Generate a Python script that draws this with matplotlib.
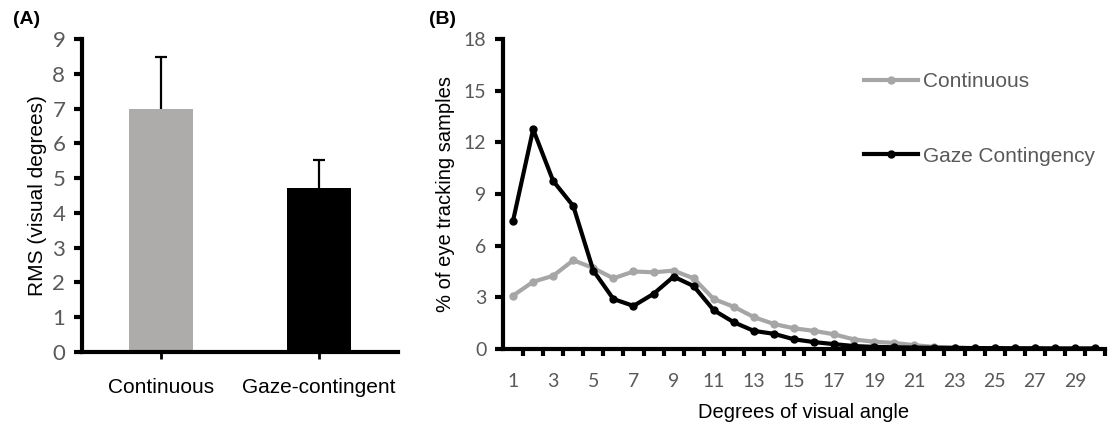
import numpy as np
import matplotlib
matplotlib.use("Agg")
import matplotlib.pyplot as plt
from matplotlib.ticker import FixedLocator

# panel A data
condiciones = ['Continuous', 'Gaze-contingent']
rms = [7.0, 4.73]
rms_err = [1.47, 0.80]

# panel B data
grados = list(range(1, 31))
continuo = [3.1, 3.9, 4.25, 5.15, 4.7, 4.1, 4.5, 4.45, 4.55, 4.1,
            2.9, 2.45, 1.85, 1.45, 1.2, 1.05, 0.85, 0.55, 0.42, 0.35,
            0.22, 0.12, 0.08, 0.05, 0.04, 0.03, 0.03, 0.02, 0.02, 0.02]
contingente = [7.45, 12.75, 9.75, 8.3, 4.55, 2.9, 2.5, 3.2, 4.2, 3.65,
               2.25, 1.55, 1.05, 0.88, 0.56, 0.4, 0.28, 0.17, 0.12, 0.1,
               0.08, 0.07, 0.06, 0.05, 0.05, 0.04, 0.04, 0.03, 0.03, 0.03]

gris_txt = '#595959'
fig = plt.figure(figsize=(11.09, 4.23), dpi=100)
plt.rcParams['font.family'] = ['Liberation Sans', 'DejaVu Sans']

# ---- (A) ----
axA = fig.add_axes([0.0739, 0.1678, 0.285, 0.74])
x = np.arange(len(condiciones))
axA.bar(x, rms, width=0.4, color=['#AEABAB', '#000000'], zorder=2)
# solo la parte de arriba del error
tope = np.array(rms) + np.array(rms_err)
axA.vlines(x, rms, tope, color='black', lw=1.6, zorder=1)
axA.hlines(tope, x - 0.035, x + 0.035, color='black', lw=1.6, zorder=1)
axA.set_xlim(-0.5, 1.5)
axA.set_ylim(0, 9)
axA.set_yticks(range(0, 10))
axA.set_xticks(x)
axA.set_xticklabels(condiciones, fontsize=15, color='black')
for lab in axA.get_yticklabels():
    lab.set_fontfamily('Lato')
    lab.set_fontsize(16)
    lab.set_color(gris_txt)
axA.set_ylabel('RMS (visual degrees)', fontsize=15, labelpad=4)
for s in ['top', 'right']:
    axA.spines[s].set_visible(False)
for s in ['left', 'bottom']:
    axA.spines[s].set_linewidth(3)
axA.tick_params(axis='y', length=6, width=3, pad=6)
axA.tick_params(axis='x', length=5, width=2, pad=14)
fig.text(0.012, 0.953, '(A)', fontsize=14, fontweight='bold', va='center')

# ---- (B) ----
axB = fig.add_axes([0.4536, 0.175, 0.5428, 0.733])
axB.plot(grados, continuo, color='#A6A6A6', lw=3, marker='o', ms=5,
         label='Continuous', zorder=2)
axB.plot(grados, contingente, color='black', lw=3, marker='o', ms=5,
         label='Gaze Contingency', zorder=3)
axB.set_xlim(0.5, 30.5)
axB.set_ylim(0, 18)
axB.set_yticks(range(0, 19, 3))
axB.set_xticks(range(1, 30, 2))
axB.xaxis.set_minor_locator(FixedLocator(np.arange(1.5, 30.6, 1)))
for lab in axB.get_xticklabels() + axB.get_yticklabels():
    lab.set_fontfamily('Lato')
    lab.set_fontsize(14)
    lab.set_color(gris_txt)
axB.tick_params(axis='x', which='major', length=0, pad=17)
axB.tick_params(axis='x', which='minor', length=5, width=3)
axB.tick_params(axis='y', length=6, width=3, pad=6)
for s in ['top', 'right']:
    axB.spines[s].set_visible(False)
for s in ['left', 'bottom']:
    axB.spines[s].set_linewidth(3)
axB.set_xlabel('Degrees of visual angle', fontsize=14.5, labelpad=10)
axB.set_ylabel('% of eye tracking samples', fontsize=14.5, labelpad=6)
leg = axB.legend(loc='upper left', bbox_to_anchor=(0.60, 0.892), frameon=False,
                 fontsize=15, handlelength=2.6, handletextpad=0.2,
                 labelspacing=2.65, borderpad=0, borderaxespad=0)
for t in leg.get_texts():
    t.set_color(gris_txt)
fig.text(0.387, 0.953, '(B)', fontsize=14, fontweight='bold', va='center')

plt.savefig('out.png', dpi=100)
